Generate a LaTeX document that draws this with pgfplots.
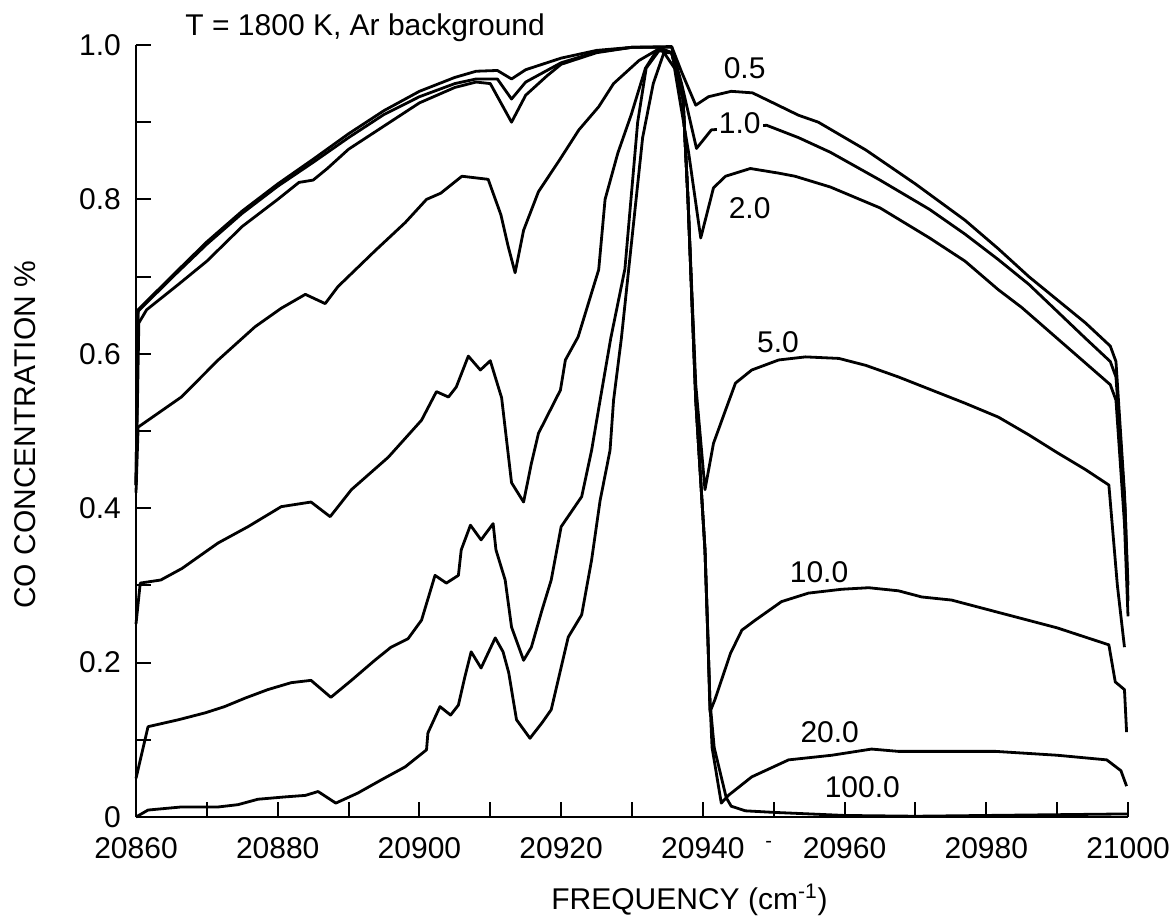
\documentclass[border=0pt]{standalone}
\usepackage{fontspec}
\setmainfont{Liberation Sans}
\usepackage{pgfplots}
\pgfplotsset{compat=1.18}

\begin{document}
\begin{tikzpicture}
\useasboundingbox (-68pt,-52pt) rectangle (518pt,408.5pt);
\begin{axis}[
  at={(0pt,0pt)}, anchor=south west,
  width=496pt, height=386pt, scale only axis,
  xmin=20860, xmax=21000, ymin=0, ymax=1,
  clip=false,
  scaled x ticks=false, scaled y ticks=false,
  axis x line*=bottom, axis y line*=left,
  axis line style={line width=1.3pt, -},
  xtick={20860,20880,20900,20920,20940,20960,20980,21000},
  xticklabels={20860,20880,20900,20920,20940,20960,20980,21000},
  minor xtick={20870,20890,20910,20930,20950,20970,20990},
  ytick={0,0.2,0.4,0.6,0.8,1.0},
  yticklabels={0,0.2,0.4,0.6,0.8,1.0},
  minor ytick={0.1,0.3,0.5,0.7,0.9},
  tick align=inside,
  major tick length=7.5pt, minor tick length=7.5pt,
  tick style={line width=1pt, black},
  /pgf/number format/assume math mode=true,
  tick label style={font=\fontsize{15}{17}\selectfont},
  xticklabel style={yshift=-6.5pt},
  yticklabel style={xshift=-4pt},
  curve/.style={black, solid, no markers, line width=1.4pt, line join=round},
]

% 0.5 %
\addplot[curve] coordinates {(20860,0.43)(20860.3,0.657)(20865,0.70)(20870,0.745)(20875,0.785)(20880,0.82)(20885,0.852)(20890,0.885)(20895,0.915)(20900,0.94)(20905,0.958)(20908,0.966)(20911,0.967)(20913,0.956)(20915,0.968)(20920,0.983)(20925,0.993)(20930,0.997)(20935.6,0.998)(20937,0.965)(20939,0.922)(20940.8,0.933)(20944,0.94)(20947,0.938)(20949.7,0.926)(20953.5,0.909)(20956.3,0.90)(20963,0.864)(20970,0.82)(20977,0.773)(20981.7,0.736)(20986,0.70)(20990,0.67)(20994,0.64)(20997.5,0.61)(20998.3,0.59)(20999.5,0.42)(21000,0.30)};

% 1.0 %
\addplot[curve] coordinates {(20860,0.43)(20860.3,0.655)(20865,0.698)(20870,0.742)(20875,0.782)(20880,0.817)(20885,0.848)(20890,0.88)(20895,0.91)(20900,0.933)(20905,0.95)(20908,0.956)(20911,0.956)(20913,0.93)(20915,0.952)(20920,0.977)(20925,0.991)(20930,0.997)(20935.6,0.997)(20937,0.95)(20939.1,0.866)(20941.2,0.89)(20949,0.896)(20953.5,0.88)(20958,0.861)(20965,0.825)(20972,0.787)(20977,0.755)(20981.7,0.722)(20986,0.69)(20990,0.655)(20994,0.62)(20997.5,0.59)(20998.3,0.57)(20999.6,0.40)(21000,0.28)};

% 2.0 %
\addplot[curve] coordinates {(20860,0.43)(20860.4,0.64)(20861.5,0.657)(20866,0.69)(20870,0.72)(20875,0.765)(20880,0.80)(20883,0.822)(20885,0.825)(20887,0.84)(20890,0.865)(20895,0.895)(20900,0.925)(20905,0.945)(20908,0.952)(20910,0.95)(20913,0.90)(20915,0.935)(20918,0.96)(20920,0.975)(20925,0.99)(20930,0.997)(20934,0.997)(20936,0.97)(20938,0.86)(20939.7,0.75)(20941.5,0.815)(20943.2,0.83)(20946.7,0.84)(20950.7,0.834)(20953,0.83)(20958,0.816)(20965,0.789)(20972,0.75)(20977,0.72)(20981.7,0.683)(20985,0.66)(20990,0.62)(20995,0.58)(20997.5,0.56)(20998.3,0.54)(20999.5,0.38)(21000,0.26)};

% 5.0 %
\addplot[curve] coordinates {(20860,0.42)(20860.3,0.505)(20866.4,0.544)(20871.6,0.592)(20876.8,0.635)(20880.5,0.659)(20883.9,0.677)(20886.7,0.665)(20888.5,0.687)(20893.8,0.734)(20898,0.77)(20901,0.80)(20903,0.808)(20906,0.83)(20909.7,0.826)(20911.5,0.78)(20912.5,0.74)(20913.5,0.705)(20914.7,0.76)(20916.8,0.81)(20919.7,0.85)(20922.5,0.89)(20925.3,0.92)(20927.4,0.95)(20931,0.98)(20934,0.996)(20935.6,0.99)(20937.2,0.93)(20937.9,0.80)(20939,0.56)(20940.3,0.424)(20941.5,0.484)(20943.2,0.527)(20944.6,0.562)(20946.9,0.579)(20950.7,0.592)(20954.5,0.596)(20959.2,0.594)(20963,0.585)(20967.6,0.57)(20972.3,0.553)(20977,0.536)(20981.7,0.518)(20986,0.495)(20990,0.472)(20994,0.45)(20997.3,0.43)(20998.5,0.30)(20999.5,0.22)};

% 10.0 %
\addplot[curve] coordinates {(20860,0.25)(20860.6,0.303)(20863.5,0.307)(20866.5,0.322)(20870.2,0.346)(20871.6,0.355)(20875.8,0.376)(20880.5,0.402)(20884.7,0.408)(20887.4,0.389)(20890.4,0.424)(20895.6,0.466)(20900.3,0.514)(20902.4,0.551)(20904.1,0.544)(20905.2,0.557)(20906.9,0.597)(20908.6,0.579)(20910,0.591)(20911.6,0.543)(20913,0.433)(20914.7,0.408)(20915.8,0.458)(20916.8,0.497)(20919.9,0.553)(20920.6,0.592)(20922.4,0.622)(20925.3,0.709)(20926.2,0.80)(20928,0.86)(20929.9,0.91)(20931.9,0.97)(20933.5,0.993)(20935.6,0.99)(20937.2,0.93)(20937.9,0.80)(20939,0.54)(20940.3,0.346)(20940.7,0.238)(20941,0.136)(20941.7,0.152)(20943.9,0.212)(20945.5,0.242)(20947.4,0.255)(20951.1,0.279)(20954.9,0.29)(20959.6,0.295)(20963.4,0.297)(20967.6,0.293)(20970.9,0.285)(20975.1,0.281)(20981.3,0.266)(20990,0.245)(20997.3,0.223)(20998.2,0.175)(20999.5,0.165)(20999.8,0.11)};

% 20.0 %
\addplot[curve] coordinates {(20860,0.05)(20861.7,0.117)(20866,0.126)(20869.8,0.135)(20872.5,0.143)(20875.4,0.154)(20878.6,0.165)(20881.9,0.174)(20884.7,0.177)(20887.5,0.155)(20890.4,0.177)(20893.7,0.203)(20896,0.22)(20898.4,0.231)(20900.3,0.255)(20902.2,0.313)(20903.8,0.303)(20905.5,0.313)(20905.9,0.346)(20907.2,0.378)(20908.7,0.359)(20910.4,0.380)(20910.8,0.346)(20912.1,0.307)(20913,0.246)(20914.7,0.203)(20915.8,0.22)(20917.3,0.268)(20918.6,0.307)(20920,0.376)(20922.9,0.415)(20924.3,0.475)(20925.5,0.54)(20927,0.62)(20929,0.71)(20930.8,0.90)(20932,0.97)(20934,0.995)(20935.6,0.99)(20937.2,0.93)(20937.9,0.80)(20939,0.54)(20940.3,0.346)(20941,0.15)(20941.3,0.09)(20942.6,0.018)(20943.6,0.028)(20946.9,0.052)(20952.1,0.074)(20958.2,0.08)(20963.8,0.088)(20967.6,0.085)(20974.7,0.085)(20981.3,0.085)(20990,0.08)(20997,0.074)(20999,0.06)(20999.8,0.04)};

% 100.0 %
\addplot[curve] coordinates {(20860,0.0)(20861.7,0.009)(20866.4,0.013)(20871.6,0.013)(20874.4,0.016)(20877.2,0.023)(20881,0.026)(20883.9,0.028)(20885.7,0.033)(20888.2,0.018)(20891.3,0.031)(20894.6,0.048)(20898,0.065)(20901,0.087)(20901.2,0.109)(20902.9,0.143)(20904.4,0.132)(20905.5,0.145)(20906.4,0.181)(20907.3,0.214)(20908.7,0.193)(20910.7,0.232)(20911.8,0.214)(20912.6,0.187)(20913.7,0.126)(20915.6,0.102)(20917.3,0.122)(20918.6,0.139)(20921,0.233)(20922.9,0.262)(20924.3,0.333)(20925.5,0.41)(20926.9,0.475)(20927.4,0.54)(20928.5,0.62)(20930,0.75)(20931.5,0.88)(20933,0.95)(20934.5,0.99)(20935.6,0.99)(20937.2,0.93)(20937.9,0.80)(20939,0.54)(20940.3,0.346)(20941,0.15)(20941.6,0.09)(20943.3,0.025)(20944,0.014)(20946,0.008)(20950,0.006)(20955,0.004)(20960,0.002)(20970,0.001)(20980,0.002)(20990,0.003)(21000,0.004)};

% curve labels
\tikzset{lab/.style={font=\fontsize{15}{17}\selectfont, inner sep=1pt}}
\node[lab] at (axis cs:20945.9,0.970) {0.5};
\node[lab, fill=white] at (axis cs:20945.2,0.899) {1.0};
\node[lab] at (axis cs:20946.6,0.789) {2.0};
\node[lab] at (axis cs:20950.6,0.615) {5.0};
\node[lab] at (axis cs:20956.4,0.317) {10.0};
\node[lab] at (axis cs:20957.9,0.110) {20.0};
\node[lab] at (axis cs:20962.5,0.039) {100.0};
\node[lab, font=\fontsize{10}{12}\selectfont] at (axis cs:20949.3,-0.036) {-};

% titles
\node[font=\fontsize{15}{17}\selectfont] at (rel axis cs:0.231,1.022) {T = 1800 K, Ar background};
\node[font=\fontsize{15}{17}\selectfont, rotate=90] at (rel axis cs:-0.112,0.495) {CO CONCENTRATION \%};
\node[font=\fontsize{15}{17}\selectfont] at (rel axis cs:0.558,-0.1075) {FREQUENCY (cm\textsuperscript{-1})};
\end{axis}
\end{tikzpicture}
\end{document}
